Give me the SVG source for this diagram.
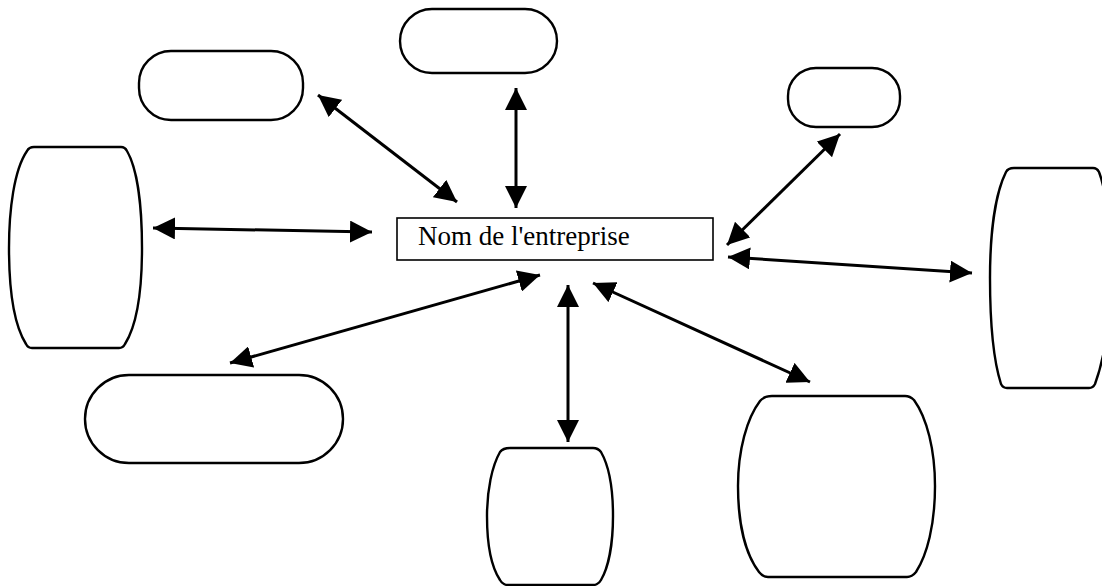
<svg xmlns="http://www.w3.org/2000/svg" width="1102" height="586" viewBox="0 0 1102 586">
<style>
.shape{fill:#fff;stroke:#000;stroke-width:2.4;stroke-linejoin:round}
.conn{stroke:#000;stroke-width:3;fill:none;marker-start:url(#ah);marker-end:url(#ah)}
.lbl{font-family:"Liberation Serif","Times New Roman",serif;font-size:27px;fill:#000}
</style>
<defs>
<marker id="ah" viewBox="0 0 22 22" refX="22" refY="11" markerWidth="22" markerHeight="22" markerUnits="userSpaceOnUse" orient="auto-start-reverse">
<path d="M0,0 L22,11 L0,22 Z" fill="#000"/>
</marker>
</defs>
<rect width="1102" height="586" fill="#fff"/>
<g id="connectors">
<line class="conn" x1="318" y1="95" x2="457" y2="202"/>
<line class="conn" x1="516" y1="88" x2="516" y2="208"/>
<line class="conn" x1="840" y1="134" x2="727" y2="245"/>
<line class="conn" x1="153" y1="228" x2="372" y2="232"/>
<line class="conn" x1="728" y1="257" x2="972" y2="273"/>
<line class="conn" x1="540" y1="275" x2="230" y2="363"/>
<line class="conn" x1="568" y1="285" x2="568" y2="442"/>
<line class="conn" x1="593" y1="283" x2="810" y2="382"/>
</g>
<g id="center">
<rect x="397" y="218" width="316" height="42" fill="#fff" stroke="#000" stroke-width="1.6"/>
<text class="lbl" x="418" y="245">Nom de l'entreprise</text>
</g>
<g id="top-left"><rect class="shape" x="139" y="51" width="164" height="69" rx="32"/></g>
<g id="top-center"><rect class="shape" x="400" y="9" width="157" height="64" rx="32"/></g>
<g id="top-right"><rect class="shape" x="788" y="68" width="112" height="59" rx="28"/></g>
<g id="left"><path class="shape" d="M34,147 H121 Q125,147 127,151 C138,170 142,210 142,248 C142,290 137,325 125,344 Q123,348 119,348 H32 Q28,348 26,344 C14,325 9,290 9,248 C9,210 14,170 27,151 Q29,147 34,147 Z"/></g>
<g id="right"><path class="shape" d="M1014,168 H1093 Q1097,168 1099,172 C1106,190 1110,230 1110,278 C1110,325 1103,362 1095,384 Q1093,388 1089,388 H1007 Q1003,388 1001,384 C994,362 990,325 990,278 C990,230 996,192 1006,172 Q1008,168 1014,168 Z"/></g>
<g id="bottom-left"><rect class="shape" x="85" y="375" width="258" height="88" rx="44"/></g>
<g id="bottom-center"><path class="shape" d="M510,448 H593 Q598,448 601,452 C609,466 613,490 613,516 C613,545 608,568 601,580 Q598,585 593,585 H508 Q503,585 500,580 C492,568 487,545 487,516 C487,490 492,466 500,452 Q503,448 510,448 Z"/></g>
<g id="bottom-right"><path class="shape" d="M772,396 H905 Q910,396 914,400 C927,418 935,450 935,486 C935,525 927,555 916,572 Q912,577 907,577 H768 Q763,577 759,572 C746,555 738,525 738,486 C738,450 747,418 760,401 Q764,396 772,396 Z"/></g>
</svg>
